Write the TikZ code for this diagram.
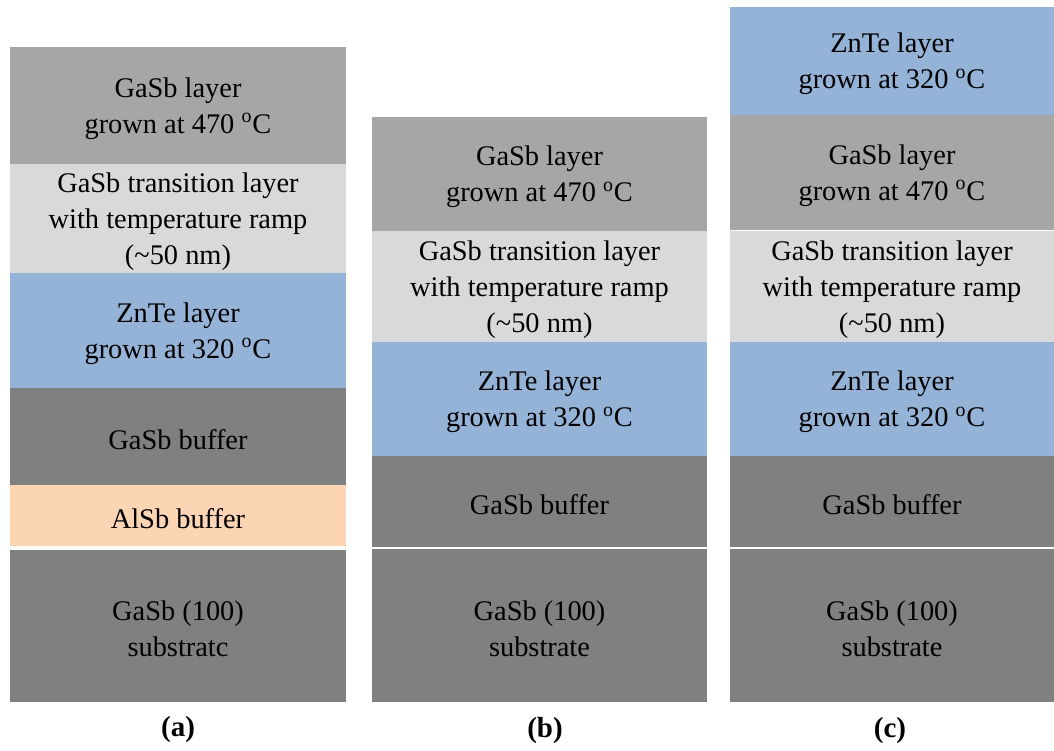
\documentclass[tikz,border=0pt]{standalone}
\usepackage{fontspec}
\setmainfont{Liberation Serif}
\usepackage{xcolor}
\usepackage{tikz}

\definecolor{gasbtop}{RGB}{166,166,166}
\definecolor{gasbtr}{RGB}{217,217,217}
\definecolor{znte}{RGB}{149,179,215}
\definecolor{gasbbuf}{RGB}{128,128,128}
\definecolor{alsb}{RGB}{252,213,181}

\newcommand{\degC}{\textsuperscript{o}C}

\begin{document}
\begin{tikzpicture}[
    x=0.5pt, y=-0.5pt,
    lbl/.style    = {align=center, inner sep=0pt,
                     font=\fontsize{14.2}{18}\selectfont},
    sublbl/.style = {inner sep=0pt, font=\fontsize{14.5}{17}\selectfont\bfseries}
  ]
  \useasboundingbox (0,0) rectangle (1054,750);

  % ----------------------------------------------------------------
  % Layer stacks: name / left / right / top / bottom / colour / text
  % ----------------------------------------------------------------
  \foreach \nm/\xl/\xr/\yt/\yb/\col/\txt in {
      % (a)
      aTop/10/346/47/164/gasbtop/{GaSb layer\\grown at 470 \degC},
      aTr/10/346/164/273/gasbtr/{GaSb transition layer\\with temperature ramp\\(\textasciitilde50 nm)},
      aZn/10/346/273/388/znte/{ZnTe layer\\grown at 320 \degC},
      aBuf/10/346/388/485/gasbbuf/{GaSb buffer},
      aAl/10/346/485/546/alsb/{AlSb buffer},
      aSub/10/346/550/702/gasbbuf/{GaSb (100)\\substratc},
      % (b)
      bTop/372/707/117/231/gasbtop/{GaSb layer\\grown at 470 \degC},
      bTr/372/707/231/342/gasbtr/{GaSb transition layer\\with temperature ramp\\(\textasciitilde50 nm)},
      bZn/372/707/342/456/znte/{ZnTe layer\\grown at 320 \degC},
      bBuf/372/707/456/547/gasbbuf/{GaSb buffer},
      bSub/372/707/549/702/gasbbuf/{GaSb (100)\\substrate},
      % (c)
      cZnTop/730/1054/7/115/znte/{ZnTe layer\\grown at 320 \degC},
      cTop/730/1054/115/230/gasbtop/{GaSb layer\\grown at 470 \degC},
      cTr/730/1054/231/342/gasbtr/{GaSb transition layer\\with temperature ramp\\(\textasciitilde50 nm)},
      cZn/730/1054/342/456/znte/{ZnTe layer\\grown at 320 \degC},
      cBuf/730/1054/456/547/gasbbuf/{GaSb buffer},
      cSub/730/1054/549/702/gasbbuf/{GaSb (100)\\substrate}}{
    \fill[\col] (\xl,\yt) rectangle (\xr,\yb);
    \node[lbl] (\nm) at ({(\xl+\xr)/2},{(\yt+\yb)/2+3}) {\txt};
  }

  % Captions below each stack
  \node[sublbl] (capA) at (178,730) {(a)};
  \node[sublbl] (capB) at (545,731) {(b)};
  \node[sublbl] (capC) at (890,731) {(c)};

\end{tikzpicture}
\end{document}
